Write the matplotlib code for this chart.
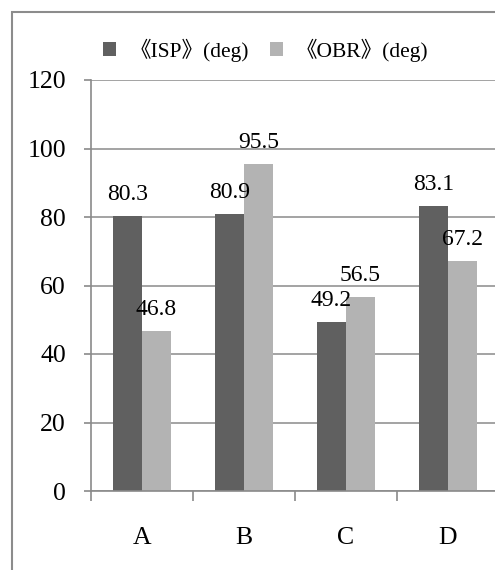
#!/usr/bin/env python3
import matplotlib
matplotlib.use('Agg')
import matplotlib.pyplot as plt
from matplotlib.patches import Rectangle

plt.rcParams['font.family'] = ['Liberation Serif', 'Noto Sans CJK JP']

categories = ['A', 'B', 'C', 'D']
isp = [80.3, 80.9, 49.2, 83.1]
obr = [46.8, 95.5, 56.5, 67.2]
series_names = ['《ISP》(deg)', '《OBR》(deg)']
yticks = [0, 20, 40, 60, 80, 100, 120]

DARK = '#606060'
LIGHT = '#b3b3b3'
LINE = '#8a8a8a'


def main():
    W, H = 495, 570
    fig = plt.figure(figsize=(W / 100, H / 100), dpi=100)
    ax = fig.add_axes([91 / W, 1 - 491 / H, 408 / W, 411 / H])

    x = range(len(categories))
    bw = 0.284
    b1 = ax.bar([i - bw / 2 for i in x], isp, bw, color=DARK, zorder=2)
    b2 = ax.bar([i + bw / 2 for i in x], obr, bw, color=LIGHT, zorder=2)

    for bars, vals in ((b1, isp), (b2, obr)):
        for r, v in zip(bars, vals):
            ax.annotate(f'{v}', (r.get_x() + r.get_width() / 2, v),
                        xytext=(0, 8), textcoords='offset points',
                        ha='center', va='bottom', fontsize=17)

    ax.set_xlim(-0.5, 3.5)
    ax.set_ylim(0, 120)
    ax.set_yticks(yticks)
    ax.set_xticks(list(x))
    ax.set_xticklabels(categories)
    ax.set_xticks([-0.5, 0.5, 1.5, 2.5], minor=True)
    ax.tick_params(axis='x', which='major', length=0, pad=26, labelsize=18.5)
    ax.tick_params(axis='x', which='minor', length=7, width=1.2, color=LINE)
    ax.tick_params(axis='y', length=5, width=1.2, color=LINE, pad=13,
                   labelsize=18.5)

    ax.grid(axis='y', color=LINE, lw=1.1, zorder=0)
    for s in ('top', 'right'):
        ax.spines[s].set_visible(False)
    for s in ('left', 'bottom'):
        ax.spines[s].set_color(LINE)
        ax.spines[s].set_linewidth(1.2)

    fig.legend([b1, b2], series_names, loc='center',
               bbox_to_anchor=(266 / W, 1 - 50 / H), ncol=2, frameon=False,
               fontsize=15.5, handlelength=0.6, handleheight=0.6,
               handletextpad=0.6, columnspacing=1.0)

    # chart frame
    fig.patches.append(Rectangle((12 / W, -0.1), 2, 1.1 - 12 / H,
                                 transform=fig.transFigure, fill=False,
                                 ec='#8c8c8c', lw=1.5))

    fig.savefig('out.png', dpi=100)


if __name__ == '__main__':
    main()
